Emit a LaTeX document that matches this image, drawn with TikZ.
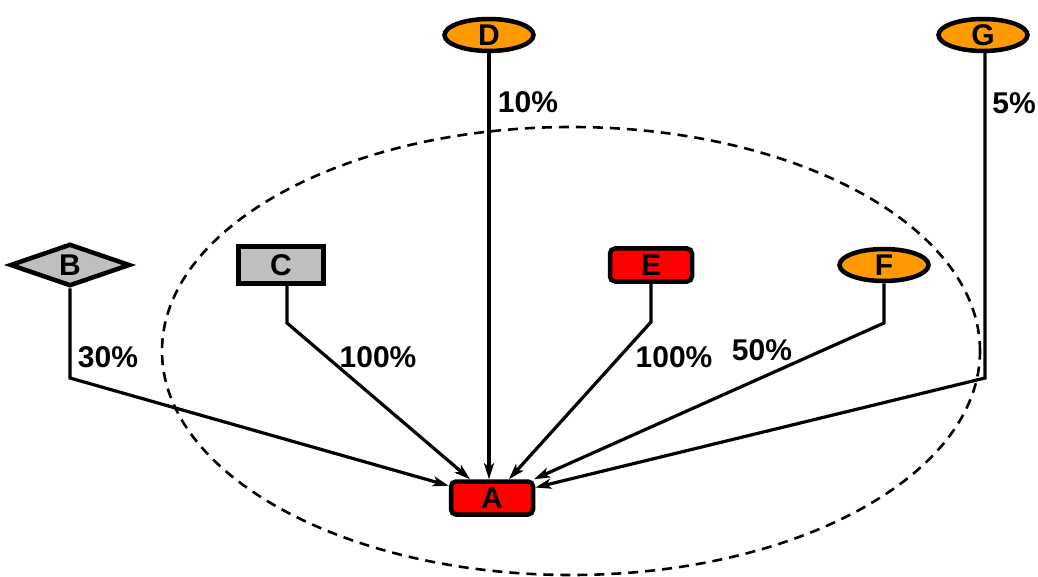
\documentclass[tikz,border=0pt]{standalone}
\usepackage{fontspec}
\setmainfont{Liberation Sans}
\usepackage{tikz}
\usetikzlibrary{arrows.meta,shapes.geometric}

\begin{document}
\begin{tikzpicture}[x=1pt,y=-1pt,
    every node/.style={font=\fontsize{30}{34}\selectfont\bfseries},
    redbox/.style={draw, line width=4.5pt, fill=red, rounded corners=5pt, minimum width=82pt, minimum height=33pt, inner sep=0pt},
    graybox/.style={draw, line width=4.5pt, fill=black!25, minimum width=85pt, minimum height=37pt, inner sep=0pt},
    orangeell/.style={draw, ellipse, line width=4.5pt, fill=orange!80!yellow, minimum width=89pt, minimum height=32pt, inner sep=0pt},
    graydiam/.style={draw, diamond, line width=4.5pt, fill=black!25, minimum width=120pt, minimum height=42pt, inner sep=0pt},
    link/.style={line width=3.2pt, -{Stealth[length=16pt,width=10pt,inset=4pt]}},
    pct/.style={inner sep=0pt}]
 
    \useasboundingbox (0,0) rectangle (1038,577);

    % dashed boundary
    \draw[line width=2.6pt, dash pattern=on 10pt off 7pt] (571,351) ellipse [x radius=409pt, y radius=224pt];

    \node[redbox] (a) at (492,498) {A};
    
    \node[graydiam] (b) at (70,265) {B};
    \node[graybox] (c) at (281,265) {C};
    \node[orangeell] (d) at (489,35) {D};
    \node[redbox] (e) at (651,265) {E};
    \node[orangeell] (f) at (884,265) {F};
    \node[orangeell] (g) at (983,35) {G};
    
    % bends
    \coordinate (bb) at (70,378);
    \coordinate (cb) at (287,323);
    \coordinate (eb) at (651,322);
    \coordinate (fb) at (884,323);
    \coordinate (gb) at (985,378);
    
    \draw[link] (b.south) -- (bb) -- (a) ;
    \draw[link] (c.south -| cb) -- (cb) -- (a) ;
    \draw[link] (d) -- (d |- a.north) ;
    \draw[link] (e) -- (eb) -- (a) ;
    \draw[link] (f) -- (fb) -- (a) ;
    \draw[link] (g.south -| gb) -- (gb) -- (a) ;
    
    \node[pct] (pb) at (108,357) {30\%};
    \node[pct] (pc) at (378,357) {100\%};
    \node[pct] (pd) at (528,102) {10\%};
    \node[pct] (pe) at (674,357) {100\%};
    \node[pct] (pf) at (762,350) {50\%};
    \node[pct] (pg) at (1014,103) {5\%};
    
\end{tikzpicture}
\end{document}
